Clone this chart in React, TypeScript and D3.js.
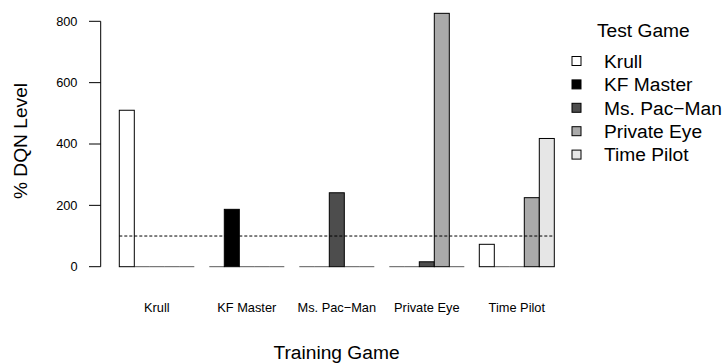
import * as d3 from "d3";

const trainingGames = ["Krull", "KF Master", "Ms. Pac\u2212Man", "Private Eye", "Time Pilot"];
const testGames = ["Krull", "KF Master", "Ms. Pac\u2212Man", "Private Eye", "Time Pilot"];
const testColors = ["#ffffff", "#000000", "#4d4d4d", "#aaaaaa", "#e6e6e6"];

// rows: training game, columns: test game (% of DQN level)
const krullRow = [510, 0, 0, 0, 0];
const kfMasterRow = [0, 187, 0, 0, 0];
const msPacManRow = [0, 0, 241, 0, 0];
const privateEyeRow = [0, 0, 16, 826, 0];
const timePilotRow = [73, 0, 0, 225, 418];
const values = [krullRow, kfMasterRow, msPacManRow, privateEyeRow, timePilotRow];

const yTicks = [0, 200, 400, 600, 800];
const refLevel = 100;

const W = 726;
const H = 364;
const font = "'Liberation Sans', Arial, sans-serif";
const big = 19.2;
const small = 12.8;

export default function App() {
  const y = d3.scaleLinear().domain([0, 800]).range([266.7, 21.3]);
  const xGroup = d3.scaleBand<number>().domain(d3.range(trainingGames.length)).range([104.3, 554.3]).padding(0);
  const xInner = d3.scaleBand<number>().domain(d3.range(testGames.length)).range([15, xGroup.bandwidth()]).padding(0);

  const firstX = (xGroup(0) ?? 0) + (xInner(0) ?? 0);
  const lastX = (xGroup(trainingGames.length - 1) ?? 0) + xGroup.bandwidth();

  return (
    <svg
      width={W}
      height={H}
      viewBox={`0 0 ${W} ${H}`}
      style={{ position: "absolute", left: 0, top: 0, display: "block", background: "#fff" }}
      fontFamily={font}
    >
      {/* y axis */}
      <line x1={100.7} x2={100.7} y1={y(0)} y2={y(800)} stroke="#000" strokeWidth={1} />
      {yTicks.map((t) => (
        <g key={t}>
          <line x1={89} x2={100.7} y1={y(t)} y2={y(t)} stroke="#000" strokeWidth={1} />
          <text x={77.5} y={y(t)} dy="0.35em" textAnchor="end" fontSize={small} fill="#000">
            {t}
          </text>
        </g>
      ))}
      <text
        transform={`translate(26.5,141) rotate(-90)`}
        textAnchor="middle"
        fontSize={big}
        fill="#000"
      >
        % DQN Level
      </text>

      {/* bars */}
      {values.map((row, g) =>
        row.map((v, i) => {
          const x0 = (xGroup(g) ?? 0) + (xInner(i) ?? 0);
          if (v === 0) {
            return (
              <line
                key={`${g}-${i}`}
                x1={x0}
                x2={x0 + xInner.bandwidth()}
                y1={y(0)}
                y2={y(0)}
                stroke="#000"
                strokeOpacity={0.65}
                strokeWidth={1}
              />
            );
          }
          return (
            <rect
              key={`${g}-${i}`}
              x={x0}
              y={y(v)}
              width={xInner.bandwidth()}
              height={y(0) - y(v)}
              fill={testColors[i]}
              stroke="#000"
              strokeWidth={1}
            />
          );
        })
      )}

      {/* reference line at 100% */}
      <line
        x1={firstX}
        x2={lastX}
        y1={y(refLevel)}
        y2={y(refLevel)}
        stroke="#000"
        strokeWidth={1}
        strokeDasharray="3,2"
      />

      {/* group labels */}
      {trainingGames.map((name, g) => (
        <text
          key={name}
          x={(xGroup(g) ?? 0) + (xInner(0) ?? 0) + (xGroup.bandwidth() - 15) / 2}
          y={312}
          textAnchor="middle"
          fontSize={small}
          fill="#000"
        >
          {name}
        </text>
      ))}
      <text x={336.5} y={359} textAnchor="middle" fontSize={big} fill="#000">
        Training Game
      </text>

      {/* legend */}
      <text x={597} y={36.7} fontSize={big} fill="#000">
        Test Game
      </text>
      {testGames.map((name, i) => {
        const cy = 61 + i * 23.4;
        return (
          <g key={name}>
            <rect x={572} y={cy - 4.5} width={9} height={9} fill={testColors[i]} stroke="#000" strokeWidth={1} />
            <text x={604} y={cy} dy="0.35em" fontSize={big} fill="#000">
              {name}
            </text>
          </g>
        );
      })}
    </svg>
  );
}
